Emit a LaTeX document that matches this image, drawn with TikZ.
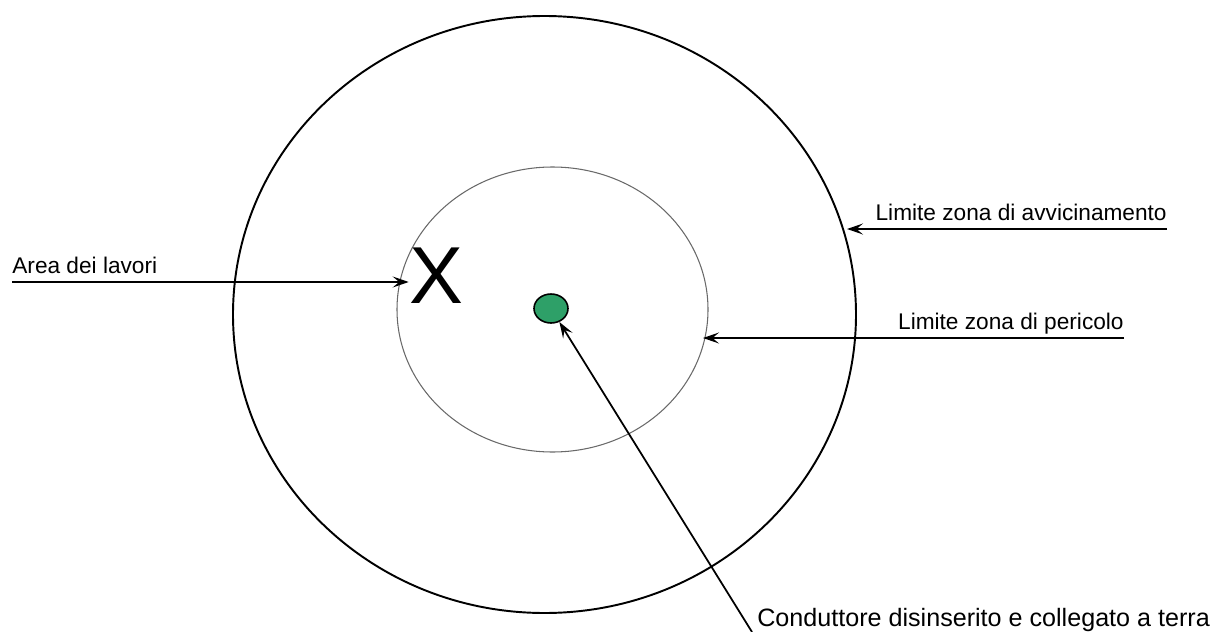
\documentclass[tikz,border=0pt]{standalone}
\usepackage{fontspec}
\setmainfont{Liberation Sans}
\usetikzlibrary{arrows.meta,shapes.geometric}
\definecolor{dotgreen}{RGB}{46,160,104}
\definecolor{innergray}{RGB}{105,105,105}
\tikzset{
  lbl/.style={font=\fontsize{12.9pt}{15pt}\selectfont, inner xsep=0pt, inner ysep=4.5pt, text depth=0pt},
  arr/.style={-{Stealth[length=0.32cm,width=0.22cm,inset=0.13cm]}, line width=1pt},
  dot/.style={ellipse, draw=black, line width=0.9pt, fill=dotgreen, inner sep=0pt, minimum width=0.68cm, minimum height=0.58cm},
}

\begin{document}
\begin{tikzpicture}[x=0.02cm,y=-0.02cm]
\useasboundingbox (0,0) rectangle (1221,632);
% zones
\draw[line width=1.1pt] (544.5,314.5) ellipse [x radius=311.5, y radius=298.5];
\draw[innergray, line width=0.6pt] (552.5,309.5) ellipse [x radius=155.5, y radius=142.5];
% conductor and work area
\node[dot] (cond) at (551,308.5) {};
\node[font=\fontsize{46pt}{50pt}\selectfont, inner sep=0pt] (X) at (436,276) {X};
% Area dei lavori
\node[lbl, anchor=south west] (area) at (12,282) {Area dei lavori};
\draw[arr] (area.south west) -- (area.south west -| X.west);
% Zona di avvicinamento
\node[lbl, anchor=south east] (avv) at (1167,229) {Limite zona di avvicinamento};
\coordinate (avvtip) at (847,229);
\draw[arr] (avv.south east) -- (avvtip);
% Zona di pericolo
\node[lbl, anchor=south east] (per) at (1124,338) {Limite zona di pericolo};
\coordinate (pertip) at (703,338);
\draw[arr] (per.south east) -- (pertip);
% Conduttore
\node[lbl, font=\fontsize{14.3pt}{16pt}\selectfont, anchor=base west] (condtxt) at (757,626) {Conduttore disinserito e collegato a terra};
\coordinate (condend) at (752,632);
\draw[arr] (condend) -- (cond);
\end{tikzpicture}
\end{document}
